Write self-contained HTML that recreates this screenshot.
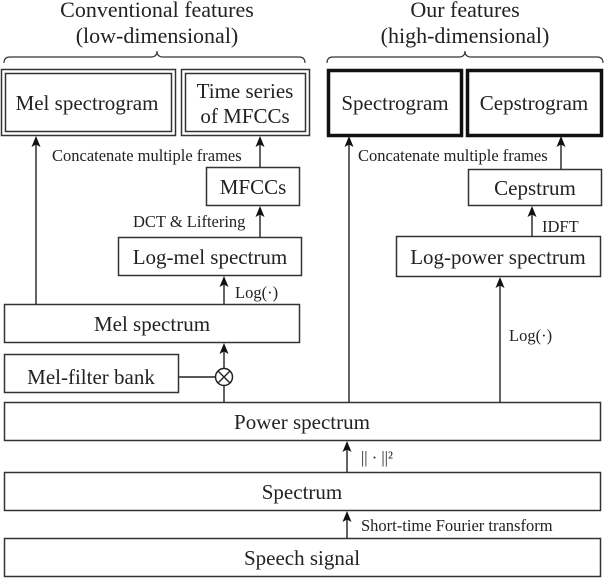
<!DOCTYPE html>
<html><head><meta charset="utf-8"><style>
html,body{margin:0;padding:0;background:#fff;}
svg{display:block;}
text{font-family:"Liberation Serif",serif;fill:#222;}
.b{font-size:21px;}
.t{font-size:22px;}
.s{font-size:16.5px;}
</style></head><body>
<svg width="604" height="578" viewBox="0 0 604 578" xmlns="http://www.w3.org/2000/svg">
<g stroke="#333" fill="none">
<path d="M4,63 Q4,57 10,57 L151,57 Q157,57 157,51 Q157,57 163,57 L299,57 Q305,57 305,63" stroke-width="1.2"/>
<path d="M327,63 Q327,57 333,57 L459,57 Q465,57 465,51 Q465,57 471,57 L597,57 Q603,57 603,63" stroke-width="1.2"/>
<rect x="1.5" y="69.5" width="174" height="66" stroke-width="1.5"/>
<rect x="5.5" y="73.5" width="166" height="58" stroke-width="1.5"/>
<rect x="181.5" y="69.5" width="128" height="66" stroke-width="1.5"/>
<rect x="185.5" y="73.5" width="120" height="58" stroke-width="1.5"/>
<rect x="328.5" y="70.5" width="133" height="65" stroke-width="3.5" stroke="#111"/>
<rect x="467.5" y="70.5" width="134" height="65" stroke-width="3.5" stroke="#111"/>
<rect x="206.5" y="167.5" width="93" height="38" stroke-width="1.5"/>
<rect x="118.5" y="237.5" width="183" height="38" stroke-width="1.5"/>
<rect x="468.5" y="169.5" width="133" height="36" stroke-width="1.5"/>
<rect x="396.5" y="236.5" width="204" height="40" stroke-width="1.5"/>
<rect x="4.5" y="304.5" width="295" height="38" stroke-width="1.5"/>
<rect x="4.5" y="354.5" width="174" height="38" stroke-width="1.5"/>
<rect x="4.5" y="402.5" width="596" height="38" stroke-width="1.5"/>
<rect x="4.5" y="472.5" width="596" height="38" stroke-width="1.5"/>
<rect x="4.5" y="538.5" width="596" height="38" stroke-width="1.5"/>
<g stroke="#222" stroke-width="1.4">
<line x1="36" y1="304" x2="36" y2="142"/>
<line x1="260" y1="167" x2="260" y2="142"/>
<line x1="260" y1="237" x2="260" y2="212"/>
<line x1="224" y1="304" x2="224" y2="282"/>
<line x1="224" y1="368" x2="224" y2="349"/>
<line x1="224" y1="386" x2="224" y2="402"/>
<line x1="179" y1="377" x2="215" y2="377"/>
<line x1="349" y1="402" x2="349" y2="142"/>
<line x1="561" y1="169" x2="561" y2="142"/>
<line x1="532" y1="236" x2="532" y2="212"/>
<line x1="500" y1="402" x2="500" y2="283"/>
<line x1="347" y1="472" x2="347" y2="447"/>
<line x1="347" y1="538" x2="347" y2="517"/>
</g>
<circle cx="224" cy="377" r="8.5" stroke-width="1.5" stroke="#222"/>
<path d="M218,371 L230,383 M230,371 L218,383" stroke-width="1.4" stroke="#222"/>
</g>
<g fill="#111">
<path d="M36,136 l-4.5,11 l4.5,-2.5 l4.5,2.5z"/>
<path d="M260,136 l-4.5,11 l4.5,-2.5 l4.5,2.5z"/>
<path d="M260,206 l-4.5,11 l4.5,-2.5 l4.5,2.5z"/>
<path d="M224,276 l-4.5,11 l4.5,-2.5 l4.5,2.5z"/>
<path d="M224,343 l-4.5,11 l4.5,-2.5 l4.5,2.5z"/>
<path d="M349,136 l-4.5,11 l4.5,-2.5 l4.5,2.5z"/>
<path d="M561,136 l-4.5,11 l4.5,-2.5 l4.5,2.5z"/>
<path d="M532,206 l-4.5,11 l4.5,-2.5 l4.5,2.5z"/>
<path d="M500,277 l-4.5,11 l4.5,-2.5 l4.5,2.5z"/>
<path d="M347,441 l-4.5,11 l4.5,-2.5 l4.5,2.5z"/>
<path d="M347,511 l-4.5,11 l4.5,-2.5 l4.5,2.5z"/>
</g>
<g text-anchor="middle">
<text class="t" x="157" y="17">Conventional features</text>
<text class="t" x="157" y="43">(low-dimensional)</text>
<text class="t" x="465" y="17">Our features</text>
<text class="t" x="465" y="43">(high-dimensional)</text>
<text class="b" x="87" y="110">Mel spectrogram</text>
<text class="b" x="245" y="98">Time series</text>
<text class="b" x="245" y="123">of MFCCs</text>
<text class="b" x="395" y="110">Spectrogram</text>
<text class="b" x="534" y="110">Cepstrogram</text>
<text class="b" x="253" y="194">MFCCs</text>
<text class="b" x="210" y="264">Log-mel spectrum</text>
<text class="b" x="535" y="195">Cepstrum</text>
<text class="b" x="498" y="264">Log-power spectrum</text>
<text class="b" x="152" y="331">Mel spectrum</text>
<text class="b" x="91" y="384">Mel-filter bank</text>
<text class="b" x="302" y="429">Power spectrum</text>
<text class="b" x="302" y="499">Spectrum</text>
<text class="b" x="302" y="565">Speech signal</text>
</g>
<text class="s" x="52" y="161">Concatenate multiple frames</text>
<text class="s" x="358" y="161">Concatenate multiple frames</text>
<text class="s" x="133" y="227">DCT &amp; Liftering</text>
<text class="s" x="542" y="232">IDFT</text>
<text class="s" x="235" y="298">Log(·)</text>
<text class="s" x="509" y="341">Log(·)</text>
<text class="s" x="361" y="463">|| · ||²</text>
<text class="s" x="361" y="531">Short-time Fourier transform</text>
</svg>
</body></html>
